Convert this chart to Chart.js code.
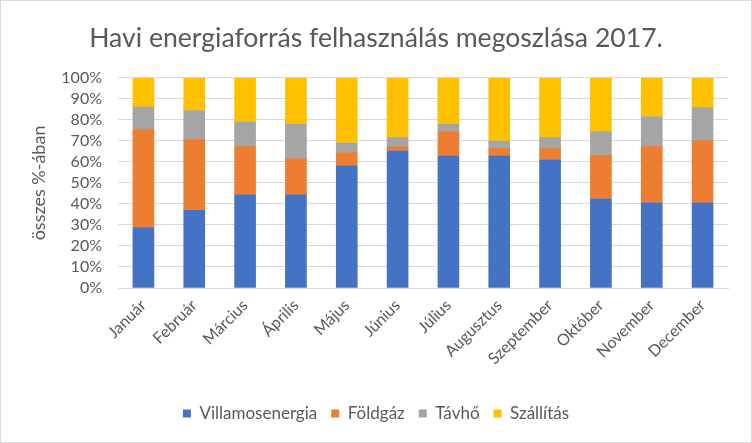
<!DOCTYPE html>
<html><head><meta charset="utf-8">
<script src="https://cdn.jsdelivr.net/npm/chart.js@4/dist/chart.umd.min.js"></script>
<style>html,body{margin:0;padding:0;background:#fff}#wrap{width:752px;height:443px;position:relative}</style>
</head><body><div id="wrap"><canvas id="c" width="752" height="443"></canvas></div>
<script>
const categories = ["Január","Február","Március","Április","Május","Június","Július","Augusztus","Szeptember","Október","November","December"];
const villamosenergia = [28.7,37.0,44.2,44.2,58.0,65.2,62.8,62.8,60.9,42.3,40.4,40.4];
const foldgaz = [46.6,33.5,23.1,17.2,6.3,1.9,11.5,3.5,5.4,20.7,26.9,29.8];
const tavho = [10.8,13.9,11.7,16.6,4.6,4.4,3.7,3.6,5.2,11.3,14.2,15.6];
const szallitas = [13.9,15.6,21.0,22.0,31.1,28.5,22.0,30.1,28.5,25.7,18.5,14.2];
const seriesNames = ["Villamosenergia","Földgáz","Távhő","Szállítás"];
const yTicks = [0,10,20,30,40,50,60,70,80,90,100];

const FONT = "Lato, 'Open Sans', sans-serif";
const colors = ["#4472C4","#ED7D31","#A5A5A5","#FFC000"];
const series = [villamosenergia, foldgaz, tavho, szallitas];

const bgPlugin = {
  id: 'bg',
  beforeDraw(chart){
    const ctx = chart.ctx;
    ctx.save();
    ctx.fillStyle = '#fff';
    ctx.fillRect(0,0,chart.width,chart.height);
    ctx.restore();
  },
  afterDraw(chart){
    const ctx = chart.ctx;
    ctx.save();
    ctx.strokeStyle = '#d9d9d9';
    ctx.lineWidth = 1;
    ctx.strokeRect(0.5,0.5,chart.width-1,chart.height-1);
    ctx.restore();
  }
};

new Chart(document.getElementById('c'), {
  type: 'bar',
  data: {
    labels: categories,
    datasets: series.map((d,i)=>({
      label: seriesNames[i],
      data: d,
      backgroundColor: colors[i],
      borderWidth: 0,
      barThickness: 21,
      stack: 's'
    }))
  },
  options: {
    responsive: false,
    animation: false,
    devicePixelRatio: 1,
    layout: { padding: { left: 0, right: 0, top: 0, bottom: 11 } },
    plugins: {
      title: {
        display: true,
        text: 'Havi energiaforrás felhasználás megoszlása 2017.',
        color: '#595959',
        font: { family: FONT, size: 26.6, weight: 'normal' },
        padding: { top: 22, bottom: 24 }
      },
      legend: {
        position: 'bottom',
        labels: {
          color: '#595959',
          font: { family: FONT, size: 17 },
          boxWidth: 8, boxHeight: 8,
          padding: 14
        }
      },
      tooltip: { enabled: false }
    },
    scales: {
      x: {
        stacked: true,
        grid: { display: false, drawTicks: false },
        border: { color: '#d9d9d9' },
        ticks: { color: '#595959', font: { family: FONT, size: 16 }, minRotation: 45, maxRotation: 45, padding: 8, autoSkip: false },
        afterFit(s){ s.height = 103; }
      },
      y: {
        stacked: true,
        min: 0, max: 100,
        afterBuildTicks(s){ s.ticks = yTicks.map(v=>({value:v})); },
        grid: { color: '#d9d9d9', drawTicks: false },
        border: { display: false },
        ticks: { color: '#595959', font: { family: FONT, size: 16 }, padding: 16, autoSkip: false, callback: v => v + '%' },
        title: { display: true, text: 'összes %-ában', color: '#595959', font: { family: FONT, size: 18 }, padding: { top: 28, bottom: 0 } },
        afterFit(s){ s.width = 118; }
      },
      yRight: {
        position: 'right',
        display: true,
        grid: { display: false, drawTicks: false },
        border: { display: false },
        ticks: { display: false },
        afterFit(s){ s.width = 24; }
      }
    }
  },
  plugins: [bgPlugin]
});
</script></body></html>
